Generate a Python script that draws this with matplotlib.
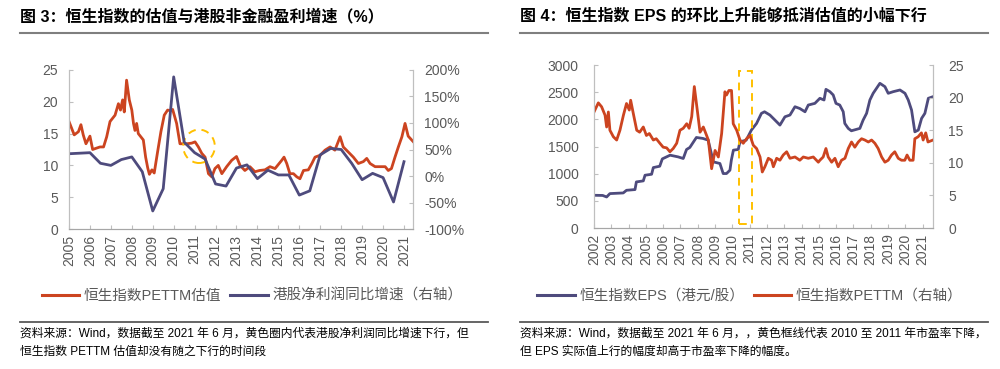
import matplotlib.pyplot as plt
from matplotlib.lines import Line2D
from matplotlib.patches import Ellipse, Rectangle
from matplotlib.ticker import FuncFormatter

plt.rcParams['font.family'] = ['Liberation Sans', 'Noto Sans CJK SC']

# ---- Figure 3 data: HSI PE TTM (left axis) and HK net profit growth (right axis, %) ----
pe3_years = [
    2005.00, 2005.13, 2005.25, 2005.45, 2005.57, 2005.68, 2005.81, 2006.00, 2006.13, 2006.30,
    2006.48, 2006.65, 2006.80, 2006.96, 2007.20, 2007.36, 2007.46, 2007.56, 2007.64, 2007.75,
    2007.88, 2008.00, 2008.08, 2008.15, 2008.23, 2008.31, 2008.43, 2008.55, 2008.66, 2008.76,
    2008.84, 2008.96, 2009.07, 2009.23, 2009.39, 2009.55, 2009.71, 2009.85, 2009.95, 2010.14,
    2010.30, 2010.46, 2010.62, 2010.86, 2011.02, 2011.18, 2011.34, 2011.50, 2011.66, 2011.82,
    2011.97, 2012.13, 2012.30, 2012.53, 2012.77, 2013.00, 2013.17, 2013.40, 2013.64, 2013.88,
    2014.10, 2014.36, 2014.60, 2014.84, 2015.16, 2015.27, 2015.40, 2015.55, 2015.72, 2015.88,
    2016.03, 2016.20, 2016.43, 2016.60, 2016.75, 2017.00, 2017.23, 2017.47, 2017.70, 2017.95,
    2018.10, 2018.34, 2018.58, 2018.82, 2019.06, 2019.22, 2019.38, 2019.62, 2019.86, 2020.10,
    2020.25, 2020.40, 2020.57, 2020.73, 2020.90, 2021.05, 2021.20, 2021.45,
]
pe3_values = [
    16.9, 15.8, 14.8, 15.3, 16.4, 14.8, 13.4, 14.6, 12.5, 12.7,
    12.9, 12.9, 14.5, 16.9, 17.9, 19.7, 18.7, 20.3, 18.4, 23.4,
    20.3, 18.7, 16.6, 15.5, 16.6, 15.0, 14.5, 14.0, 11.3, 9.6,
    8.6, 9.3, 8.8, 12.1, 15.3, 17.9, 18.7, 18.6, 18.8, 16.6,
    13.4, 13.4, 13.4, 13.5, 13.7, 12.9, 11.9, 11.3, 8.7, 8.2,
    9.5, 10.0, 8.7, 9.8, 10.8, 11.4, 10.0, 9.2, 9.8, 9.0,
    9.2, 9.3, 9.8, 9.5, 10.8, 11.3, 10.3, 8.7, 8.7, 8.2,
    7.9, 9.2, 9.3, 10.3, 11.3, 11.6, 12.4, 12.9, 12.4, 14.5,
    12.9, 12.1, 11.3, 10.3, 10.6, 11.1, 10.3, 9.8, 9.8, 9.8,
    9.2, 9.5, 11.3, 12.9, 14.5, 16.6, 14.6, 13.7,
]

growth_years = [
    2005.0, 2005.5, 2006.0, 2006.5, 2007.0, 2007.5, 2008.0, 2008.5, 2009.0, 2009.5,
    2010.0, 2010.5, 2011.0, 2011.5, 2012.0, 2012.5, 2013.0, 2013.5, 2014.0, 2014.5,
    2015.0, 2015.5, 2016.0, 2016.5, 2017.0, 2017.5, 2018.0, 2018.5, 2019.0, 2019.5,
    2020.0, 2020.5, 2021.0,
]
growth_pct = [
    42, 43, 44, 24, 20, 31, 36, 8, -66, -24,
    187, 64, 44, 32, -15, -19, 15, 21, -5, 11,
    2, 2, -36, -28, 40, 52, 50, 24, -7, 5,
    -3, -49, 27,
]

# ---- Figure 4 data: HSI EPS (left axis, HKD) and HSI PE TTM (right axis) ----
eps_years = [
    2002.00, 2002.50, 2002.73, 2002.92, 2003.69, 2003.88, 2004.37, 2004.45, 2004.85, 2004.95,
    2005.33, 2005.43, 2005.80, 2005.95, 2006.40, 2006.86, 2007.16, 2007.35, 2007.54, 2007.92,
    2008.30, 2008.60, 2008.90, 2009.28, 2009.47, 2009.66, 2009.86, 2009.94, 2010.06, 2010.34,
    2010.44, 2010.80, 2011.10, 2011.40, 2011.68, 2011.86, 2012.17, 2012.46, 2012.75, 2013.04,
    2013.33, 2013.62, 2013.90, 2014.20, 2014.39, 2014.77, 2015.06, 2015.30, 2015.41, 2015.64,
    2015.83, 2015.99, 2016.21, 2016.41, 2016.50, 2016.70, 2016.88, 2017.37, 2017.56, 2017.76,
    2017.95, 2018.14, 2018.53, 2018.82, 2019.01, 2019.30, 2019.69, 2019.98, 2020.17, 2020.36,
    2020.55, 2020.75, 2020.94, 2021.13, 2021.33, 2021.60,
]
eps_values = [
    603, 600, 572, 634, 646, 695, 708, 849, 868, 972,
    990, 1113, 1138, 1273, 1341, 1310, 1280, 1446, 1483, 1667,
    1649, 1618, 1218, 1188, 1003, 1003, 1065, 1249, 1434, 1446,
    1587, 1618, 1803, 1926, 2111, 2140, 2080, 1988, 1895, 2048,
    2080, 2233, 2200, 2140, 2264, 2295, 2388, 2357, 2553, 2510,
    2449, 2295, 2264, 2141, 1926, 1834, 1790, 1834, 1987, 2111,
    2356, 2480, 2664, 2602, 2480, 2510, 2541, 2480, 2356, 2172,
    1771, 1803, 2018, 2111, 2388, 2418,
]

pe4_years = [
    2002.00, 2002.25, 2002.44, 2002.64, 2002.73, 2002.83, 2002.92, 2003.12, 2003.31, 2003.50,
    2003.70, 2003.88, 2004.04, 2004.12, 2004.27, 2004.47, 2004.64, 2004.85, 2005.03, 2005.20,
    2005.43, 2005.60, 2005.81, 2006.00, 2006.20, 2006.39, 2006.58, 2006.78, 2006.97, 2007.16,
    2007.36, 2007.50, 2007.65, 2007.80, 2007.97, 2008.13, 2008.32, 2008.51, 2008.61, 2008.80,
    2009.00, 2009.19, 2009.38, 2009.57, 2009.66, 2009.80, 2009.95, 2010.05, 2010.25, 2010.44,
    2010.63, 2010.82, 2011.02, 2011.21, 2011.40, 2011.60, 2011.73, 2011.88, 2012.08, 2012.27,
    2012.37, 2012.56, 2012.75, 2012.94, 2013.14, 2013.33, 2013.62, 2013.90, 2014.10, 2014.39,
    2014.68, 2014.97, 2015.06, 2015.25, 2015.41, 2015.54, 2015.74, 2015.93, 2016.12, 2016.31,
    2016.51, 2016.70, 2016.89, 2017.08, 2017.28, 2017.47, 2017.66, 2017.86, 2018.05, 2018.24,
    2018.43, 2018.63, 2018.82, 2019.01, 2019.20, 2019.39, 2019.59, 2019.78, 2019.97, 2020.10,
    2020.26, 2020.45, 2020.55, 2020.74, 2020.93, 2021.03, 2021.18, 2021.31, 2021.60,
]
pe4_values = [
    17.8, 19.2, 18.6, 17.3, 15.5, 17.8, 15.0, 14.0, 13.5, 15.0,
    17.3, 19.1, 18.1, 19.6, 17.6, 15.0, 14.7, 15.5, 14.2, 14.5,
    13.5, 13.7, 13.0, 12.4, 12.3, 11.7, 12.2, 13.0, 15.0, 15.3,
    16.0, 15.3, 17.1, 21.7, 18.1, 14.7, 15.5, 14.2, 13.5, 9.1,
    11.9, 10.9, 14.5, 20.9, 20.4, 21.1, 21.1, 16.0, 15.0, 13.5,
    13.0, 13.7, 14.2, 12.7, 12.2, 10.9, 8.6, 9.4, 10.7, 10.4,
    9.4, 10.7, 10.4, 11.2, 11.7, 10.7, 10.9, 10.4, 10.9, 10.7,
    10.9, 10.1, 10.4, 10.9, 12.2, 10.9, 10.1, 10.7, 9.4, 10.4,
    10.7, 12.2, 13.2, 12.4, 13.2, 13.7, 13.5, 13.2, 13.5, 13.0,
    12.2, 10.9, 10.1, 10.4, 11.2, 11.7, 10.7, 10.4, 10.4, 11.2,
    10.4, 10.4, 13.7, 14.0, 14.6, 13.5, 14.6, 13.2, 13.5,
]

# Colours
red = '#CC4420'
navy = '#4E4B7D'
yellow = '#FFC000'
tick_gray = '#595959'
spine_gray = '#BFBFBF'


def style_axes(ax, ax2, xmin, xmax, first_year, last_year, label_pad):
    ax.set_xlim(xmin, xmax)
    years = list(range(first_year, last_year + 1))
    ax.set_xticks(years)
    ax.set_xticklabels([str(y) for y in years], rotation=90, fontsize=10, color=tick_gray)
    for a in (ax, ax2):
        a.spines['top'].set_visible(False)
        a.spines['left'].set_color(spine_gray)
        a.spines['right'].set_color(spine_gray)
        a.spines['bottom'].set_color('#A6A6A6')
        a.tick_params(direction='in', length=3, color=spine_gray, labelsize=10,
                      labelcolor=tick_gray, pad=label_pad)
    ax.tick_params(axis='x', pad=4)


fig = plt.figure(figsize=(10, 3.69), dpi=100)

# ---------------- Figure 3 ----------------
ax = fig.add_axes([0.069, 0.3794, 0.344, 0.4309])
ax2 = ax.twinx()
ax.plot(pe3_years, pe3_values, color=red, lw=2.0)
ax2.plot(growth_years, growth_pct, color=navy, lw=2.0)
ax.set_ylim(0, 25)
ax.set_yticks([0, 5, 10, 15, 20, 25])
ax2.set_ylim(-100, 200)
ax2.set_yticks([-100, -50, 0, 50, 100, 150, 200])
ax2.yaxis.set_major_formatter(FuncFormatter(lambda v, p: f'{v:.0f}%'))
style_axes(ax, ax2, 2005, 2021.43, 2005, 2021, 8)

# yellow dashed circle
ax.add_patch(Ellipse((2011.21, 13.0), 1.51, 5.25, fill=False, ls=(0, (4, 3)),
                     lw=1.4, color=yellow, zorder=5))

# ---------------- Figure 4 ----------------
bx = fig.add_axes([0.594, 0.382, 0.339, 0.4417])
bx2 = bx.twinx()
bx.plot(eps_years, eps_values, color=navy, lw=2.0)
bx2.plot(pe4_years, pe4_values, color=red, lw=2.0)
bx.set_ylim(0, 3000)
bx.set_yticks(range(0, 3001, 500))
bx2.set_ylim(0, 25)
bx2.set_yticks(range(0, 26, 5))
style_axes(bx, bx2, 2002, 2021.6, 2002, 2021, 11)

# yellow dashed box
bx.add_patch(Rectangle((2010.38, 68), 0.75, 2823, fill=False, ls=(0, (4, 3)),
                       lw=1.4, color=yellow, zorder=5))

# ---------------- Titles and rules ----------------
fig.text(0.02, 1 - 16 / 369, '图 3：恒生指数的估值与港股非金融盈利增速（%）',
         fontsize=11.5, fontweight='bold', va='center', ha='left')
fig.text(0.52, 1 - 16 / 369, '图 4：恒生指数 EPS 的环比上升能够抵消估值的小幅下行',
         fontsize=11.5, fontweight='bold', va='center', ha='left')
for x0, x1 in [(0.02, 0.488), (0.52, 0.988)]:
    fig.add_artist(Line2D([x0, x1], [1 - 33 / 369] * 2, color='#7F7F7F', lw=1.5))
    fig.add_artist(Line2D([x0, x1], [1 - 322 / 369] * 2, color='#595959', lw=1.3))

# ---------------- Legends ----------------
fig.legend(handles=[Line2D([], [], color=red, lw=2.2), Line2D([], [], color=navy, lw=2.2)],
           labels=['恒生指数PETTM估值', '港股净利润同比增速（右轴）'],
           loc='center', bbox_to_anchor=(0.252, 1 - 296 / 369), ncol=2, frameon=False,
           fontsize=10.5, labelcolor=tick_gray, handlelength=2.6, handletextpad=0.3,
           columnspacing=0.6)
fig.legend(handles=[Line2D([], [], color=navy, lw=2.2), Line2D([], [], color=red, lw=2.2)],
           labels=['恒生指数EPS（港元/股）', '恒生指数PETTM（右轴）'],
           loc='center', bbox_to_anchor=(0.75, 1 - 296 / 369), ncol=2, frameon=False,
           fontsize=10.5, labelcolor=tick_gray, handlelength=2.6, handletextpad=0.3,
           columnspacing=0.6)

# ---------------- Footnotes ----------------
fig.text(0.02, 1 - 334 / 369,
         '资料来源：Wind，数据截至 2021 年 6 月，黄色圈内代表港股净利润同比增速下行，但',
         fontsize=8.5, va='center', ha='left')
fig.text(0.02, 1 - 352 / 369, '恒生指数 PETTM 估值却没有随之下行的时间段',
         fontsize=8.5, va='center', ha='left')
fig.text(0.52, 1 - 334 / 369,
         '资料来源：Wind，数据截至 2021 年 6 月，，黄色框线代表 2010 至 2011 年市盈率下降，',
         fontsize=8.5, va='center', ha='left')
fig.text(0.52, 1 - 352 / 369, '但 EPS 实际值上行的幅度却高于市盈率下降的幅度。',
         fontsize=8.5, va='center', ha='left')

fig.savefig('out.png', dpi=100)
